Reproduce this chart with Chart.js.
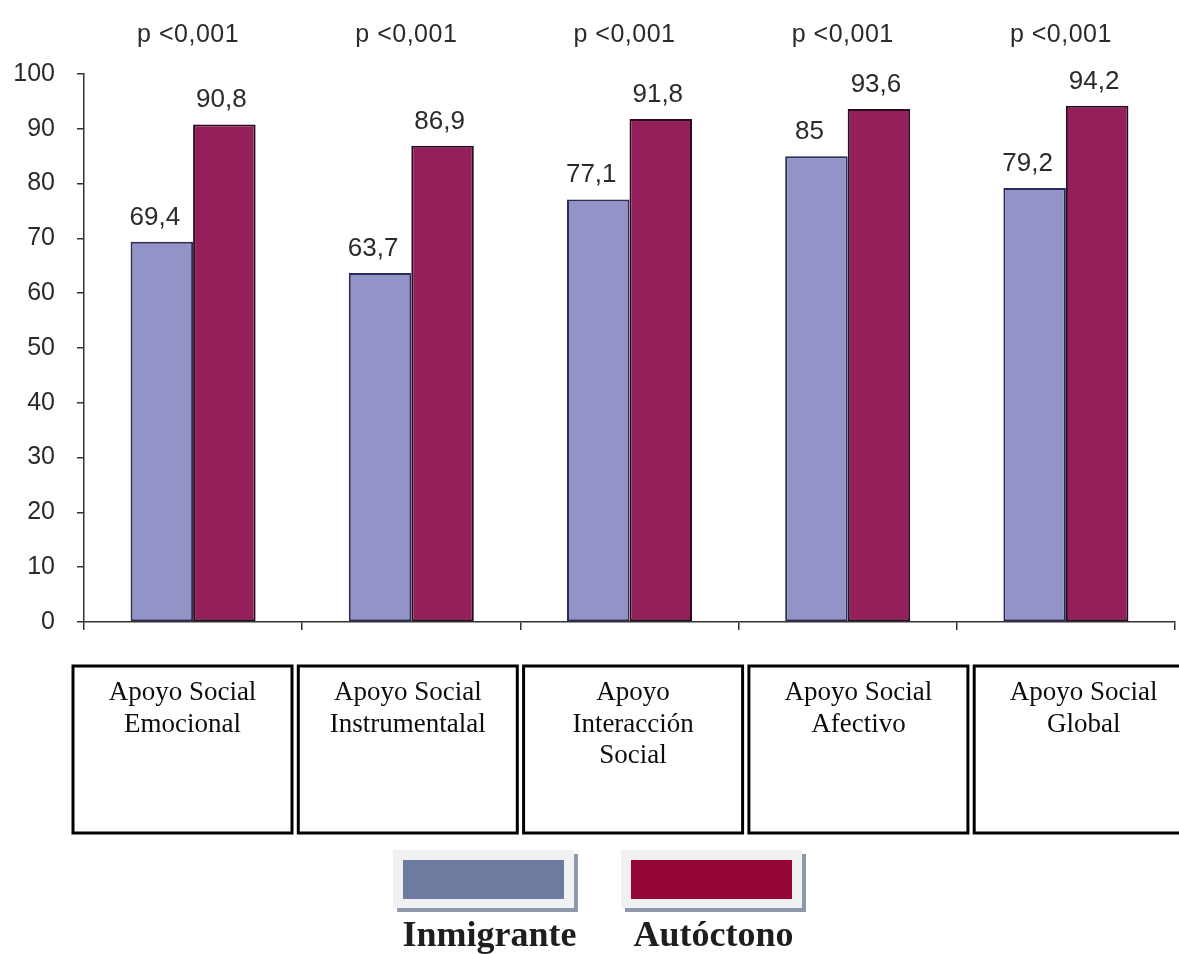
<!DOCTYPE html>
<html>
<head>
<meta charset="utf-8">
<script src="https://cdn.jsdelivr.net/npm/chart.js@4.4.1/dist/chart.umd.min.js"></script>
<style>
  html, body { margin: 0; padding: 0; background: #ffffff; }
  #wrap { position: relative; width: 1179px; height: 954px; }
</style>
</head>
<body>
<div id="wrap"><canvas id="chart"></canvas></div>
<script>
// Dimensions of social support, one box label per group
const categories = [
  ["Apoyo Social", "Emocional"],
  ["Apoyo Social", "Instrumentalal"],
  ["Apoyo", "Interacción", "Social"],
  ["Apoyo Social", "Afectivo"],
  ["Apoyo Social", "Global"]
];
const inmigrante = [69.4, 63.7, 77.1, 85, 79.2];
const autoctono = [90.8, 86.9, 91.8, 93.6, 94.2];
const pValues = ["p <0,001", "p <0,001", "p <0,001", "p <0,001", "p <0,001"];
const seriesNames = ["Inmigrante", "Autóctono"];
const yMin = 0, yMax = 100, yStep = 10;

const barColors = ["#9293c7", "#93205b"];
const legendColors = ["#6d7ba0", "#940434"];
const numberFont = '"Liberation Sans", Arial, sans-serif';
const serifFont = '"Liberation Serif", "Times New Roman", serif';

const fmt = v => String(v).replace('.', ',');

// Value labels above each bar plus the significance note over each group
const valueLabels = {
  id: 'valueLabels',
  afterDatasetsDraw(chart) {
    const ctx = chart.ctx;
    const shift = [-7, -3];
    ctx.save();
    ctx.fillStyle = '#2b2b2b';
    ctx.textAlign = 'center';
    ctx.textBaseline = 'alphabetic';
    ctx.font = '26px ' + numberFont;
    chart.data.datasets.forEach((ds, di) => {
      chart.getDatasetMeta(di).data.forEach((bar, i) => {
        ctx.fillText(fmt(ds.data[i]), bar.x + shift[di], bar.y - 17);
      });
    });
    const xs = chart.scales.x;
    ctx.font = '25px ' + numberFont;
    ctx.letterSpacing = '0.5px';
    pValues.forEach((p, i) => {
      ctx.fillText(p, xs.getPixelForValue(i) - 5, 42);
    });
    ctx.restore();
  }
};

// Boxed category names under the axis
const categoryBoxes = {
  id: 'categoryBoxes',
  afterDraw(chart) {
    const ctx = chart.ctx;
    const left0 = 73, step = 225.3, w = 219, top = 666, h = 167;
    ctx.save();
    ctx.strokeStyle = '#000';
    ctx.lineWidth = 3;
    ctx.fillStyle = '#0d0d0d';
    ctx.font = '27px ' + serifFont;
    ctx.textAlign = 'center';
    ctx.textBaseline = 'alphabetic';
    categories.forEach((lines, i) => {
      const x = left0 + i * step;
      ctx.strokeRect(x, top, w, h);
      lines.forEach((t, k) => ctx.fillText(t, x + w / 2, 700 + k * 31.5));
    });
    ctx.restore();
  }
};

// Legend swatches with drop shadow and names underneath
const swatchLegend = {
  id: 'swatchLegend',
  afterDraw(chart) {
    const ctx = chart.ctx;
    const lefts = [393, 621];
    const w = 181, top = 850, h = 58;
    ctx.save();
    lefts.forEach((x, i) => {
      ctx.fillStyle = '#8d97ad';
      ctx.fillRect(x + 4, top + 4, w, h);
      ctx.fillStyle = '#f1f1f1';
      ctx.fillRect(x, top, w, h);
      ctx.fillStyle = legendColors[i];
      ctx.fillRect(x + 10, top + 10, w - 20, h - 19);
      ctx.fillStyle = '#1e1e1e';
      ctx.font = 'bold 36px ' + serifFont;
      ctx.textAlign = 'center';
      ctx.fillText(seriesNames[i], x + w / 2 + (i === 0 ? 6 : 2), 946);
    });
    ctx.restore();
  }
};

new Chart(document.getElementById('chart'), {
  type: 'bar',
  data: {
    labels: categories,
    datasets: [
      { label: seriesNames[0], data: inmigrante, backgroundColor: barColors[0], borderColor: '#2c2b5a' },
      { label: seriesNames[1], data: autoctono, backgroundColor: barColors[1], borderColor: '#2a0a1e' }
    ]
  },
  options: {
    responsive: true,
    maintainAspectRatio: false,
    animation: false,
    layout: { padding: { top: 74, right: 4, left: 0, bottom: 0 } },
    datasets: {
      bar: {
        categoryPercentage: 0.573,
        barPercentage: 1,
        borderWidth: 2,
        borderSkipped: false
      }
    },
    plugins: {
      legend: { display: false },
      tooltip: { enabled: false }
    },
    scales: {
      x: {
        afterFit: s => { s.height = 332; },
        grid: {
          offset: true,
          drawOnChartArea: false,
          tickLength: 8,
          color: '#333',
          lineWidth: 1.5
        },
        border: { color: '#333', width: 1.5 },
        ticks: { display: false }
      },
      y: {
        min: yMin,
        max: yMax,
        afterFit: s => { s.width = 84; },
        grid: {
          drawOnChartArea: false,
          tickLength: 7,
          color: '#333',
          lineWidth: 1.5
        },
        border: { color: '#333', width: 1.5 },
        ticks: {
          stepSize: yStep,
          padding: 22,
          color: '#2b2b2b',
          font: { family: numberFont, size: 25 }
        }
      }
    }
  },
  plugins: [valueLabels, categoryBoxes, swatchLegend]
});
</script>
</body>
</html>
